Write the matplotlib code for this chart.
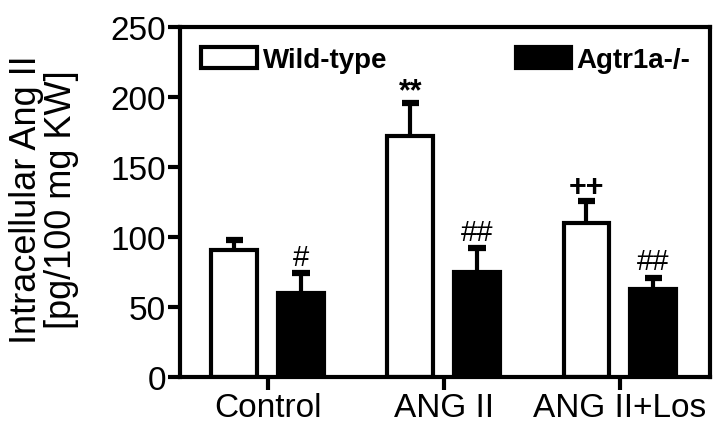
import numpy as np
import matplotlib.pyplot as plt

plt.rcParams['font.family'] = ['Liberation Sans', 'DejaVu Sans']

# data
groups = ["Control", "ANG II", "ANG II+Los"]
wt = [90.5, 172.5, 110]
wt_err = [7, 23, 16]
ko = [60, 75, 62.5]
ko_err = [14, 17, 8.5]
wt_marks = ["", "**", "++"]
ko_marks = ["#", "##", "##"]

x = np.arange(len(groups))
w = 0.26
off = 0.19
cap = 0.05

fig = plt.figure(figsize=(7.19, 4.31), dpi=100)
ax = fig.add_axes([0.250, 0.123, 0.737, 0.812])

lw = 3
ax.bar(x - off, wt, width=w, color="white", edgecolor="black", linewidth=lw,
       label="Wild-type", zorder=2)
ax.bar(x + off, ko, width=w, color="black", edgecolor="black", linewidth=lw,
       label="Agtr1a-/-", zorder=2)

# one-sided error bars (upper only)
for xs, vals, errs in [(x - off, wt, wt_err), (x + off, ko, ko_err)]:
    tops = np.array(vals) + np.array(errs)
    ax.vlines(xs, vals, tops, color="black", linewidth=lw, zorder=1)
    ax.hlines(tops, xs - cap, xs + cap, color="black", linewidth=4.5, zorder=1)

for xi, v, e, m in zip(x - off, wt, wt_err, wt_marks):
    dy = -2 if m == "**" else -1
    ax.text(xi, v + e + dy, m, ha="center", va="bottom", fontsize=22, fontweight="bold")
for xi, v, e, m in zip(x + off, ko, ko_err, ko_marks):
    ax.text(xi, v + e + 1.5, m, ha="center", va="bottom", fontsize=21)

ax.set_xlim(-0.5, 2.51)
ax.set_ylim(0, 250)
ax.set_yticks([0, 50, 100, 150, 200, 250])
ax.set_xticks(x)
ax.set_xticklabels(groups)
ax.tick_params(axis="both", labelsize=24, width=lw, length=9, direction="out")
ax.tick_params(axis="y", pad=1)
ax.tick_params(axis="x", pad=2)
for s in ax.spines.values():
    s.set_linewidth(lw)

ax.set_ylabel("Intracellular Ang II\n[pg/100 mg KW]", fontsize=26,
              linespacing=1.0)
ax.yaxis.set_label_coords(-0.19, 0.51)

h, l = ax.get_legend_handles_labels()
leg1 = ax.legend([h[0]], [l[0]], loc="upper left", frameon=False,
                 prop={"weight": "bold", "size": 20}, handlelength=2.0,
                 handleheight=0.8, handletextpad=0.2, borderaxespad=0,
                 bbox_to_anchor=(0.02, 0.975))
ax.add_artist(leg1)
ax.legend([h[1]], [l[1]], loc="upper right", frameon=False,
          prop={"weight": "bold", "size": 20}, handlelength=2.0,
          handleheight=0.8, handletextpad=0.2, borderaxespad=0,
          bbox_to_anchor=(0.985, 0.975))

plt.savefig("out.png", dpi=100)
